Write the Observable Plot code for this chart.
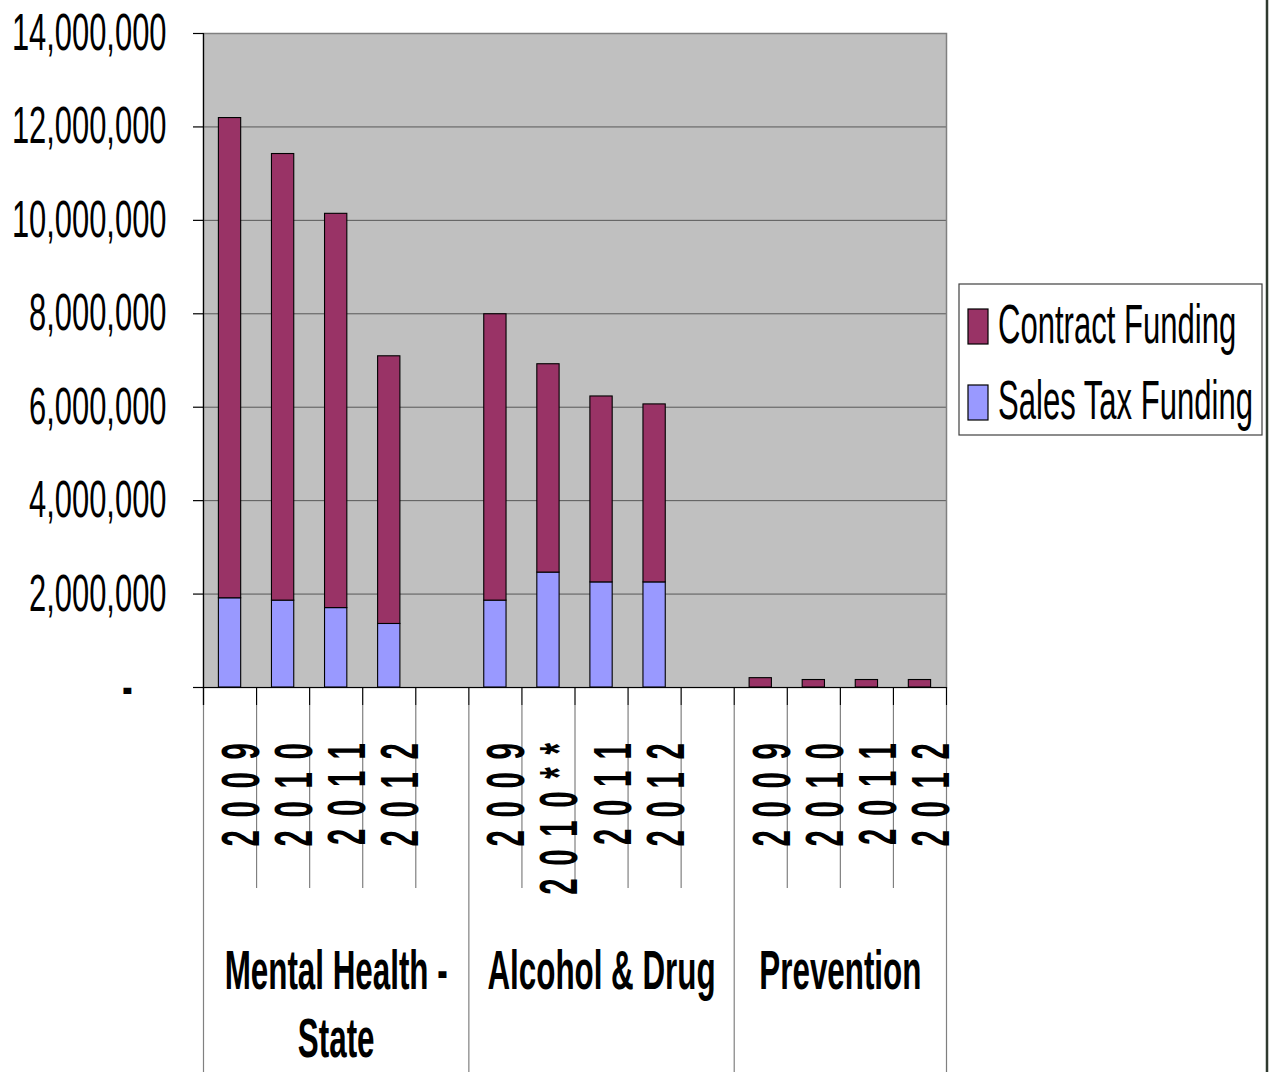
<!DOCTYPE html>
<html>
<head>
<meta charset="utf-8">
<script src="https://cdn.jsdelivr.net/npm/d3@7"></script>
<script src="https://cdn.jsdelivr.net/npm/@observablehq/plot@0.6"></script>
<style>
  html, body { margin: 0; padding: 0; background: #fff; }
  #chart svg { display: block; overflow: visible; }
</style>
</head>
<body>
<div id="chart"></div>
<script>
// ---- data ----
const groups = ["Mental Health -\nState", "Alcohol & Drug", "Prevention"];
const yearLabels = [
  ["2009", "2010", "2011", "2012"],
  ["2009", "2010**", "2011", "2012"],
  ["2009", "2010", "2011", "2012"]
];
const seriesNames = ["Sales Tax Funding", "Contract Funding"];
const seriesColors = ["#9999FF", "#993366"];
const salesTax = [
  [1910000, 1860000, 1700000, 1360000],
  [1860000, 2460000, 2250000, 2250000],
  [0, 0, 0, 0]
];
const contract = [
  [10280000, 9560000, 8440000, 5730000],
  [6130000, 4460000, 3980000, 3810000],
  [200000, 160000, 160000, 160000]
];
const yTicks = [0, 2000000, 4000000, 6000000, 8000000, 10000000, 12000000, 14000000];
const yTickLabels = ["-", "2,000,000", "4,000,000", "6,000,000", "8,000,000", "10,000,000", "12,000,000", "14,000,000"];

// ---- layout ----
const W = 1269, H = 1072, ML = 203, MR = 323, MT = 33, MB = 385;
const FONT = "'Liberation Sans', Arial, Helvetica, sans-serif";
const frameW = W - ML - MR, frameH = H - MT - MB;

// build slot table (years + a gap slot between groups)
const slots = [];
const rows = [];
const spans = [];
groups.forEach((g, gi) => {
  const start = slots.length;
  yearLabels[gi].forEach((yl, j) => {
    const slot = `${gi}|${j}`;
    slots.push(slot);
    rows.push({slot, series: seriesNames[0], value: salesTax[gi][j], label: yl});
    rows.push({slot, series: seriesNames[1], value: contract[gi][j], label: yl});
  });
  if (gi < groups.length - 1) slots.push(`${gi}|gap`);
  spans.push({group: g, start, end: slots.length});
});
const step = frameW / slots.length;
const labelRows = rows.filter(d => d.series === seriesNames[0]);

// boundaries: left edge of each slot; group boundaries are long
const groupStarts = new Set(spans.map(s => slots[s.start]));
const innerBounds = slots.filter(s => !groupStarts.has(s));
const groupBounds = slots.filter(s => groupStarts.has(s));
const lastSlot = [slots[slots.length - 1]];

const groupLabelMarks = spans.map(s => {
  const n = s.end - s.start;
  const slot = n % 2 ? slots[s.start + (n - 1) / 2] : slots[s.start + n / 2 - 1];
  const dx = n % 2 ? 0 : step / 2;
  return Plot.text([s.group], {
    x: () => slot, text: d => d, frameAnchor: "bottom",
    dx, dy: 253, lineAnchor: "top", lineHeight: 1.22,
    fontSize: 56, fontWeight: "bold", fill: "#000", fontFamily: FONT,
    ariaLabel: () => "grouplabel"
  });
});

const chart = Plot.plot({
  width: W, height: H,
  marginLeft: ML, marginRight: MR, marginTop: MT, marginBottom: MB,
  style: {fontFamily: FONT, background: "#fff"},
  x: {type: "band", domain: slots, paddingInner: 0.58, paddingOuter: 0.29, round: false, axis: null},
  y: {domain: [0, 14000000], axis: null},
  color: {domain: seriesNames, range: seriesColors},
  marks: [
    Plot.frame({fill: "#C0C0C0"}),
    Plot.gridY(yTicks.slice(1, -1), {stroke: "#000", strokeOpacity: 0.55, strokeWidth: 1}),
    Plot.frame({stroke: "#808080", strokeWidth: 1.5}),
    Plot.barY(rows, Plot.stackY({x: "slot", y: "value", fill: "series", stroke: "#000", strokeWidth: 1.1})),
    // y tick marks
    Plot.tickY(yTicks, {y: d => d, insetLeft: -10, insetRight: frameW, stroke: "#000", strokeWidth: 1.2}),
    // axis baseline
    Plot.ruleY([0], {insetLeft: -10, stroke: "#000", strokeWidth: 1.2}),
    // left value-axis line
    Plot.ruleX([slots[0]], {x: d => d, dx: -step / 2, insetBottom: -18, stroke: "#000", strokeWidth: 1.2}),
    // category tick marks (black) below axis
    Plot.ruleX(slots, {x: d => d, dx: -step / 2, insetTop: frameH, insetBottom: -18, stroke: "#000", strokeWidth: 1.2}),
    Plot.ruleX(lastSlot, {x: d => d, dx: step / 2, insetTop: frameH, insetBottom: -18, stroke: "#000", strokeWidth: 1.2}),
    // grey separators
    Plot.ruleX(innerBounds, {x: d => d, dx: -step / 2, insetTop: frameH + 18, insetBottom: -201, stroke: "#808080", strokeWidth: 1.2}),
    Plot.ruleX(groupBounds, {x: d => d, dx: -step / 2, insetTop: frameH + 18, insetBottom: -MB, stroke: "#808080", strokeWidth: 1.2}),
    Plot.ruleX(lastSlot, {x: d => d, dx: step / 2, insetTop: frameH + 18, insetBottom: -MB, stroke: "#808080", strokeWidth: 1.2}),
    // y labels
    Plot.text(yTicks.slice(1), {y: d => d, text: (d, i) => yTickLabels[i + 1], frameAnchor: "left", textAnchor: "end", dx: -37,
      fontSize: 51.5, fill: "#000", fontFamily: FONT, ariaLabel: () => "ylabel"}),
    Plot.text(yTicks.slice(0, 1), {y: d => d, text: () => yTickLabels[0], frameAnchor: "left", textAnchor: "middle", dx: -76,
      fontSize: 51.5, fontWeight: "bold", fill: "#000", fontFamily: FONT, ariaLabel: () => "ylabel"}),
    // year labels
    Plot.text(labelRows, {x: "slot", text: "label", frameAnchor: "bottom", rotate: -90, textAnchor: "end",
      dx: 29, dy: 43, fontSize: 53.5, fontWeight: "bold", fill: "#000", fontFamily: FONT, ariaLabel: () => "yearlabel"}),
    ...groupLabelMarks
  ]
});

document.getElementById("chart").appendChild(chart);

// condense text horizontally (narrow typeface look)
function condense(label, sx) {
  d3.select(chart).selectAll(`text[aria-label="${label}"]`).each(function () {
    const t = this.getAttribute("transform") || "";
    this.setAttribute("transform", `${t} scale(${sx},1)`);
  });
}
d3.select(chart).selectAll(`text[aria-label="yearlabel"]`).style("letter-spacing", "23px");
condense("ylabel", 0.6);
condense("yearlabel", 0.55);
condense("grouplabel", 0.56);

// legend (in the SVG, right of the plot area)
const svg = d3.select(chart);
const color = chart.scale("color");
const lg = svg.append("g").attr("aria-label", "legend").attr("font-family", FONT).attr("text-anchor", "start");
lg.append("rect").attr("x", 959).attr("y", 284).attr("width", 303).attr("height", 151)
  .attr("fill", "#fff").attr("stroke", "#404040").attr("stroke-width", 1.2);
const legendItems = seriesNames.slice().reverse();
legendItems.forEach((name, i) => {
  const top = 309 + i * 76;
  lg.append("rect").attr("x", 968).attr("y", top).attr("width", 20).attr("height", 35)
    .attr("fill", color.apply(name)).attr("stroke", "#000").attr("stroke-width", 1.2);
  lg.append("text").attr("transform", `translate(998,${top + 34}) scale(0.565,1)`)
    .attr("text-anchor", "start").attr("font-size", 55).attr("fill", "#000").text(name);
});
// chart-area right border
svg.append("line").attr("x1", 1267).attr("x2", 1267).attr("y1", 0).attr("y2", H)
  .attr("stroke", "#2f3a2f").attr("stroke-width", 2.5);
</script>
</body>
</html>
